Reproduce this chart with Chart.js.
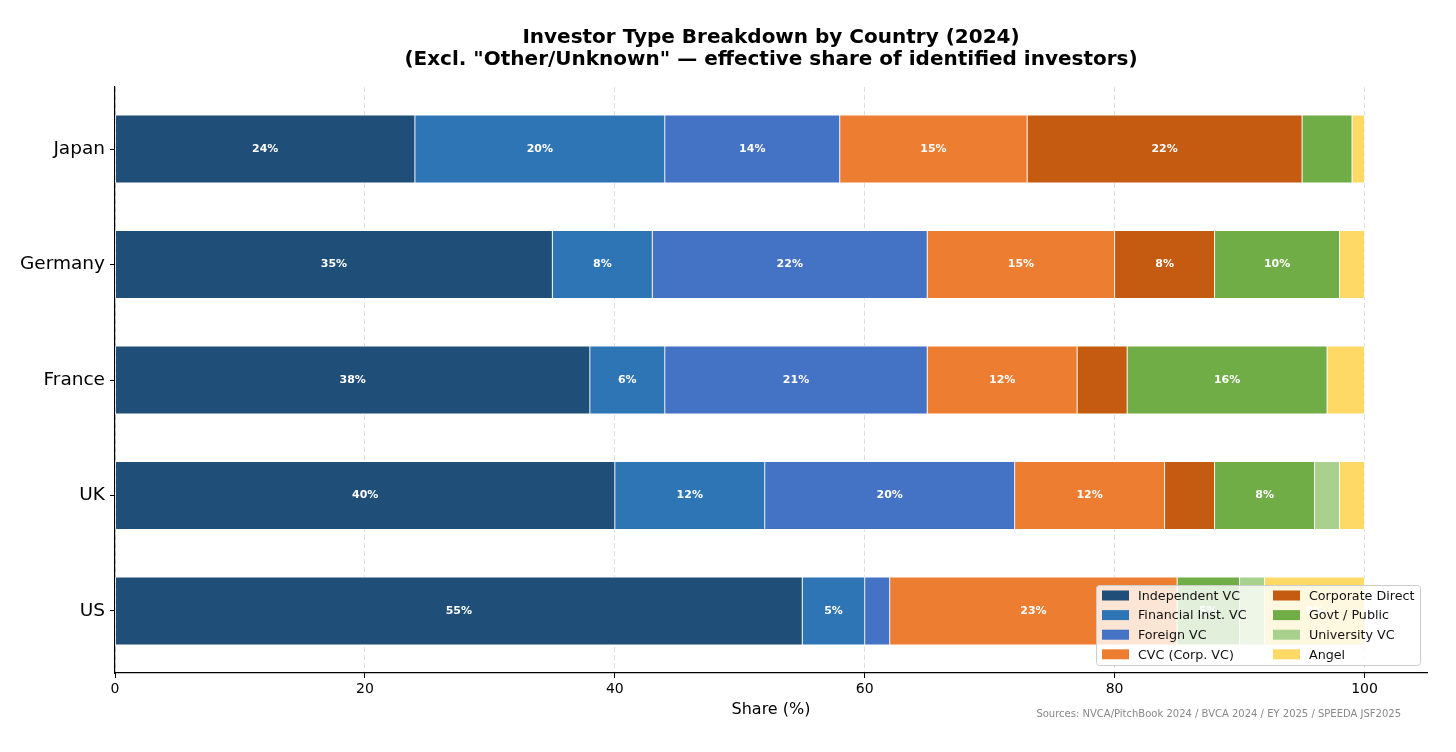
<!DOCTYPE html>
<html lang="en">
<head>
  <meta charset="UTF-8" />
  <title>Investor Type Breakdown by Country (2024)</title>
  <script src="https://cdn.jsdelivr.net/npm/chart.js"></script>
  <style>
    html, body { margin: 0; padding: 0; background: #fff; }
    #wrap { width: 1456px; height: 752px; }
  </style>
</head>
<body>
  <div id="wrap"><canvas id="chart" width="1456" height="752"></canvas></div>

  <script>
    // bottom -> top, same order as the index values on the y axis
    const countries = ['US', 'UK', 'France', 'Germany', 'Japan'];

    const independentVC = [55, 40, 38, 35, 24];
    const financialVC   = [5, 12, 6, 8, 20];
    const foreignVC     = [2, 20, 21, 22, 14];
    const cvc           = [23, 12, 12, 15, 15];
    const corpDirect    = [0, 4, 4, 8, 22];
    const govtPublic    = [5, 8, 16, 10, 4];
    const universityVC  = [2, 2, 0, 0, 0];
    const angel         = [8, 2, 3, 2, 1];

    const xTicks = [0, 20, 40, 60, 80, 100];

    const series = [
      { label: 'Independent VC',    data: independentVC, color: '#1f4e79' },
      { label: 'Financial Inst. VC', data: financialVC,  color: '#2e75b6' },
      { label: 'Foreign VC',        data: foreignVC,     color: '#4472c4' },
      { label: 'CVC (Corp. VC)',    data: cvc,           color: '#ed7d31' },
      { label: 'Corporate Direct',  data: corpDirect,    color: '#c55a11' },
      { label: 'Govt / Public',     data: govtPublic,    color: '#70ad47' },
      { label: 'University VC',     data: universityVC,  color: '#a9d18e' },
      { label: 'Angel',             data: angel,         color: '#ffd966' }
    ];

    const FONT = "'DejaVu Sans', sans-serif";

    // white % labels inside segments, then the legend box on top
    const overlay = {
      id: 'overlay',
      afterDatasetsDraw(chart) {
        const ctx = chart.ctx;
        ctx.save();
        ctx.fillStyle = '#fff';
        ctx.font = 'bold 11px ' + FONT;
        ctx.textAlign = 'center';
        ctx.textBaseline = 'middle';
        chart.data.datasets.forEach((ds, i) => {
          chart.getDatasetMeta(i).data.forEach((bar, j) => {
            const v = ds.data[j].x;
            if (v >= 5) {
              const p = bar.getCenterPoint();
              ctx.fillText(v + '%', p.x, p.y);
            }
          });
        });

        // legend, 2 columns x 4 rows, lower right
        const bx = 1096, by = 585, bw = 324, bh = 80;
        ctx.fillStyle = 'rgba(255,255,255,0.8)';
        ctx.strokeStyle = '#cccccc';
        ctx.lineWidth = 1;
        ctx.beginPath();
        ctx.roundRect(bx + 0.5, by + 0.5, bw, bh, 3);
        ctx.fill();
        ctx.stroke();
        ctx.font = '12.7px ' + FONT;
        ctx.textAlign = 'left';
        chart.data.datasets.forEach((ds, i) => {
          const col = Math.floor(i / 4), row = i % 4;
          const sx = bx + 6 + col * 171;
          const cy = by + 10.5 + row * 19.6;
          ctx.fillStyle = ds.backgroundColor;
          ctx.fillRect(sx, cy - 5, 27, 10);
          ctx.fillStyle = '#111';
          ctx.fillText(ds.label, sx + 36, cy + 1);
        });
        ctx.restore();
      },
      afterDraw(chart) {
        const ctx = chart.ctx;
        ctx.save();
        ctx.fillStyle = '#888';
        ctx.font = '10px ' + FONT;
        ctx.textAlign = 'right';
        ctx.textBaseline = 'middle';
        ctx.fillText('Sources: NVCA/PitchBook 2024 / BVCA 2024 / EY 2025 / SPEEDA JSF2025', 1401, 714);
        ctx.restore();
      }
    };

    new Chart(document.getElementById('chart'), {
      type: 'bar',
      data: {
        datasets: series.map(s => ({
          label: s.label,
          data: s.data.map((v, i) => ({ x: v, y: i })),
          backgroundColor: s.color,
          borderColor: 'rgba(255,255,255,0.9)',
          borderWidth: 0.8,
          borderSkipped: false,
          barThickness: 68
        }))
      },
      options: {
        indexAxis: 'y',
        responsive: false,
        animation: false,
        layout: { padding: { left: 0, right: 29, top: 0, bottom: 0 } },
        scales: {
          x: {
            type: 'linear',
            stacked: true,
            min: 0,
            max: 105,
            afterBuildTicks: s => { s.ticks = xTicks.map(v => ({ value: v })); },
            afterFit: s => { s.height = 79; },
            grid: {
              color: '#dddddd',
              lineWidth: 1,
              drawTicks: true,
              tickLength: 5,
              tickColor: '#000'
            },
            border: { display: true, color: '#000', width: 1.2, dash: [5, 3] },
            ticks: { color: '#000', font: { family: FONT, size: 14 }, padding: 3 },
            title: {
              display: true,
              text: 'Share (%)',
              color: '#000',
              font: { family: FONT, size: 16 },
              padding: { top: 0, bottom: 33 }
            }
          },
          y: {
            type: 'linear',
            stacked: true,
            offset: false,
            min: -0.537,
            max: 4.537,
            afterBuildTicks: s => { s.ticks = countries.map((c, i) => ({ value: i })); },
            afterFit: s => { s.width = 115; },
            grid: {
              offset: false,
              drawOnChartArea: false,
              drawTicks: true,
              tickLength: 5,
              tickColor: '#000'
            },
            border: { display: true, color: '#000', width: 1.2 },
            ticks: {
              color: '#000',
              font: { family: FONT, size: 18.5 },
              padding: 5,
              callback: v => countries[v]
            }
          }
        },
        plugins: {
          legend: { display: false },
          tooltip: { enabled: false },
          title: {
            display: true,
            fullSize: false,
            text: ['Investor Type Breakdown by Country (2024)',
                   '(Excl. "Other/Unknown" \u2014 effective share of identified investors)'],
            color: '#000',
            font: { family: FONT, size: 20, weight: 'bold', lineHeight: 1.1 },
            padding: { top: 27, bottom: 16 }
          }
        }
      },
      plugins: [overlay]
    });
  </script>
</body>
</html>
